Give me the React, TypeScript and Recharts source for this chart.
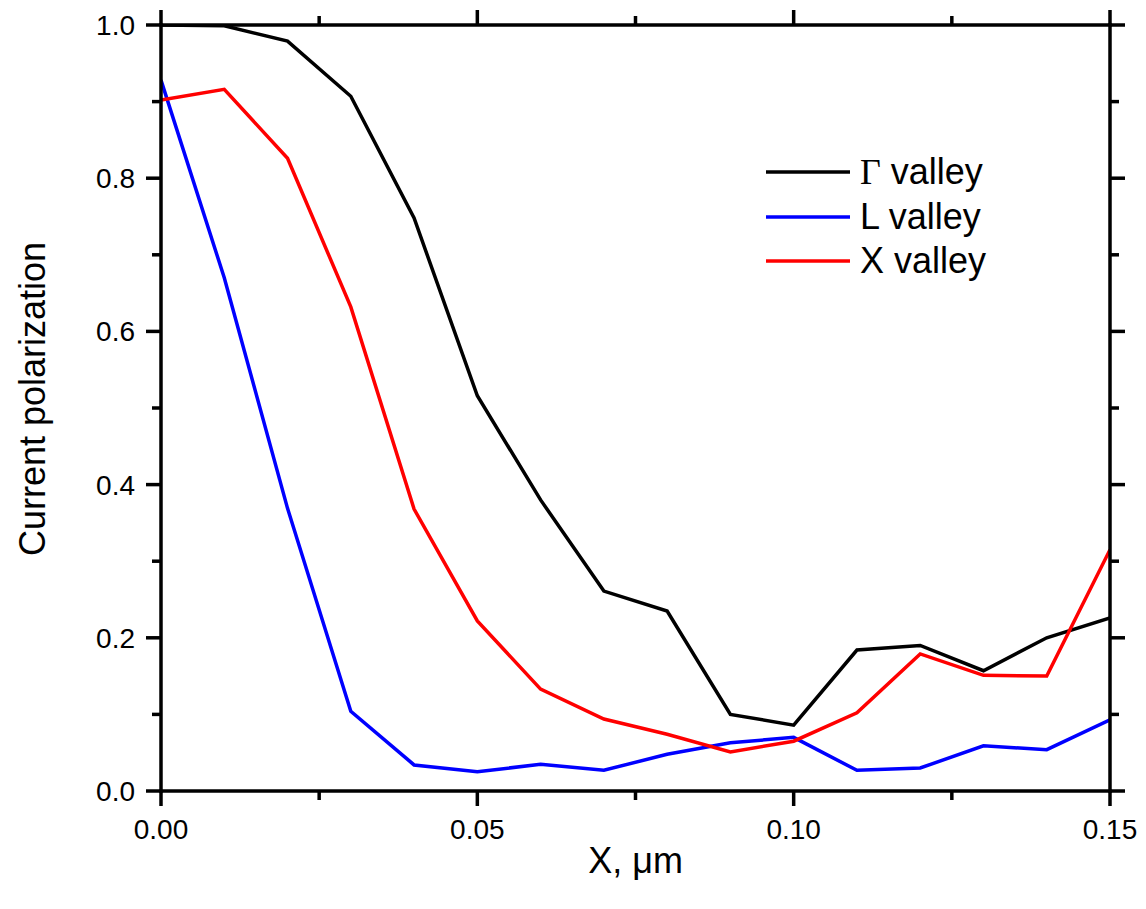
import React from 'react';
import { LineChart, Line, XAxis, YAxis, Legend } from 'recharts';

const xValues = [0, 0.01, 0.02, 0.03, 0.04, 0.05, 0.06, 0.07, 0.08, 0.09, 0.1, 0.11, 0.12, 0.13, 0.14, 0.15];
const gammaValley = [1.0, 0.999, 0.979, 0.907, 0.748, 0.516, 0.38, 0.261, 0.235, 0.1, 0.086, 0.184, 0.19, 0.157, 0.2, 0.226];
const lValley = [0.928, 0.67, 0.369, 0.104, 0.034, 0.025, 0.035, 0.027, 0.048, 0.063, 0.07, 0.027, 0.03, 0.059, 0.054, 0.093];
const xValley = [0.902, 0.916, 0.826, 0.632, 0.368, 0.222, 0.133, 0.094, 0.074, 0.051, 0.065, 0.102, 0.179, 0.151, 0.15, 0.315];
const seriesNames = ['Γ valley', 'L valley', 'X valley'];
const seriesColors = ['#000000', '#0000ff', '#ff0000'];

const xTicks = [0, 0.025, 0.05, 0.075, 0.1, 0.125, 0.15];
const xMajor = [0, 0.05, 0.1, 0.15];
const yTicks = [0, 0.1, 0.2, 0.3, 0.4, 0.5, 0.6, 0.7, 0.8, 0.9, 1.0];
const yMajor = [0, 0.2, 0.4, 0.6, 0.8, 1.0];

const data = xValues.map((x, i) => ({
  x,
  gamma: gammaValley[i],
  l: lValley[i],
  xv: xValley[i],
}));

const FONT = '"Liberation Sans", Arial, sans-serif';
const MAJOR = 15;
const MINOR = 9;
const AXIS_W = 3.5;

const isIn = (v: number, list: number[]) => list.some((m) => Math.abs(m - v) < 1e-9);

const BottomTick = (props: any) => {
  const { x, y, payload } = props;
  const major = isIn(payload.value, xMajor);
  return (
    <g>
      <line x1={x} x2={x} y1={y} y2={y + (major ? MAJOR : MINOR)} stroke="#000" strokeWidth={AXIS_W} />
      {major && (
        <text x={x} y={y + 48} textAnchor="middle" fontFamily={FONT} fontSize={28} fill="#000">
          {payload.value.toFixed(2)}
        </text>
      )}
    </g>
  );
};

const TopTick = (props: any) => {
  const { x, y, payload } = props;
  const major = isIn(payload.value, xMajor);
  return <line x1={x} x2={x} y1={y} y2={y - (major ? MAJOR : MINOR)} stroke="#000" strokeWidth={AXIS_W} />;
};

const LeftTick = (props: any) => {
  const { x, y, payload } = props;
  const major = isIn(payload.value, yMajor);
  return (
    <g>
      <line x1={x} x2={x - (major ? MAJOR : MINOR)} y1={y} y2={y} stroke="#000" strokeWidth={AXIS_W} />
      {major && (
        <text x={x - 26} y={y + 10} textAnchor="end" fontFamily={FONT} fontSize={28} fill="#000">
          {payload.value.toFixed(1)}
        </text>
      )}
    </g>
  );
};

const RightTick = (props: any) => {
  const { x, y, payload } = props;
  const major = isIn(payload.value, yMajor);
  return <line x1={x} x2={x + (major ? MAJOR : MINOR)} y1={y} y2={y} stroke="#000" strokeWidth={AXIS_W} />;
};

const YLabel = (props: any) => {
  const vb = props.viewBox;
  const cx = vb.x + 37;
  const cy = vb.y + vb.height / 2 - 9;
  return (
    <text transform={`translate(${cx}, ${cy}) rotate(-90)`} textAnchor="middle" fontFamily={FONT} fontSize={36} fill="#000">
      Current polarization
    </text>
  );
};

const XLabel = (props: any) => {
  const vb = props.viewBox;
  return (
    <text x={vb.x + vb.width / 2} y={vb.y + 82} textAnchor="middle" fontFamily={FONT} fontSize={36} fill="#000">
      X, μm
    </text>
  );
};

// legend drawn from the series arrays so the order matches the plot
const LegendBox = () => (
  <div style={{ fontFamily: FONT, fontSize: 36, color: '#000' }}>
    {seriesNames.map((name, i) => {
      const first = name.charAt(0);
      return (
        <div key={name} style={{ display: 'flex', alignItems: 'center', height: 44.5, whiteSpace: 'nowrap' }}>
          <svg width={94} height={6} style={{ flex: 'none' }}>
            <line x1={0} x2={84} y1={3} y2={3} stroke={seriesColors[i]} strokeWidth={3.5} />
          </svg>
          <span>
            {first === 'Γ' ? (
              <span style={{ fontFamily: '"Liberation Serif", "Times New Roman", serif' }}>Γ</span>
            ) : (
              first
            )}
            {name.slice(1)}
          </span>
        </div>
      );
    })}
  </div>
);

const axisStyle = { stroke: '#000', strokeWidth: AXIS_W, strokeLinecap: 'square' as const };

export default function App() {
  return (
    <LineChart width={1130} height={893} data={data} margin={{ top: 0, right: 0, bottom: 0, left: 0 }}>
      <XAxis
        dataKey="x"
        type="number"
        domain={[0, 0.15]}
        ticks={xTicks}
        interval={0}
        tickSize={0}
        tickMargin={0}
        tickLine={false}
        axisLine={axisStyle}
        tick={<BottomTick />}
        height={110}
        allowDataOverflow
        label={<XLabel />}
      />
      <XAxis
        xAxisId="top"
        orientation="top"
        dataKey="x"
        type="number"
        domain={[0, 0.15]}
        ticks={xTicks}
        interval={0}
        tickSize={0}
        tickMargin={0}
        tickLine={false}
        axisLine={axisStyle}
        tick={<TopTick />}
        height={17}
        allowDataOverflow
      />
      <YAxis
        type="number"
        domain={[0, 1]}
        ticks={yTicks}
        interval={0}
        tickSize={0}
        tickMargin={0}
        tickLine={false}
        axisLine={axisStyle}
        tick={<LeftTick />}
        width={153}
        allowDataOverflow
        label={<YLabel />}
      />
      <YAxis
        yAxisId="right"
        orientation="right"
        type="number"
        domain={[0, 1]}
        ticks={yTicks}
        interval={0}
        tickSize={0}
        tickMargin={0}
        tickLine={false}
        axisLine={axisStyle}
        tick={<RightTick />}
        width={28}
        allowDataOverflow
      />
      <Legend
        layout="vertical"
        align="center"
        verticalAlign="middle"
        content={<LegendBox />}
        wrapperStyle={{ left: 758, top: 142, width: 280 }}
      />
      <Line type="linear" dataKey="gamma" name={seriesNames[0]} stroke={seriesColors[0]} strokeWidth={3.5} dot={false} isAnimationActive={false} />
      <Line type="linear" dataKey="l" name={seriesNames[1]} stroke={seriesColors[1]} strokeWidth={3.5} dot={false} isAnimationActive={false} />
      <Line type="linear" dataKey="xv" name={seriesNames[2]} stroke={seriesColors[2]} strokeWidth={3.5} dot={false} isAnimationActive={false} />
    </LineChart>
  );
}
